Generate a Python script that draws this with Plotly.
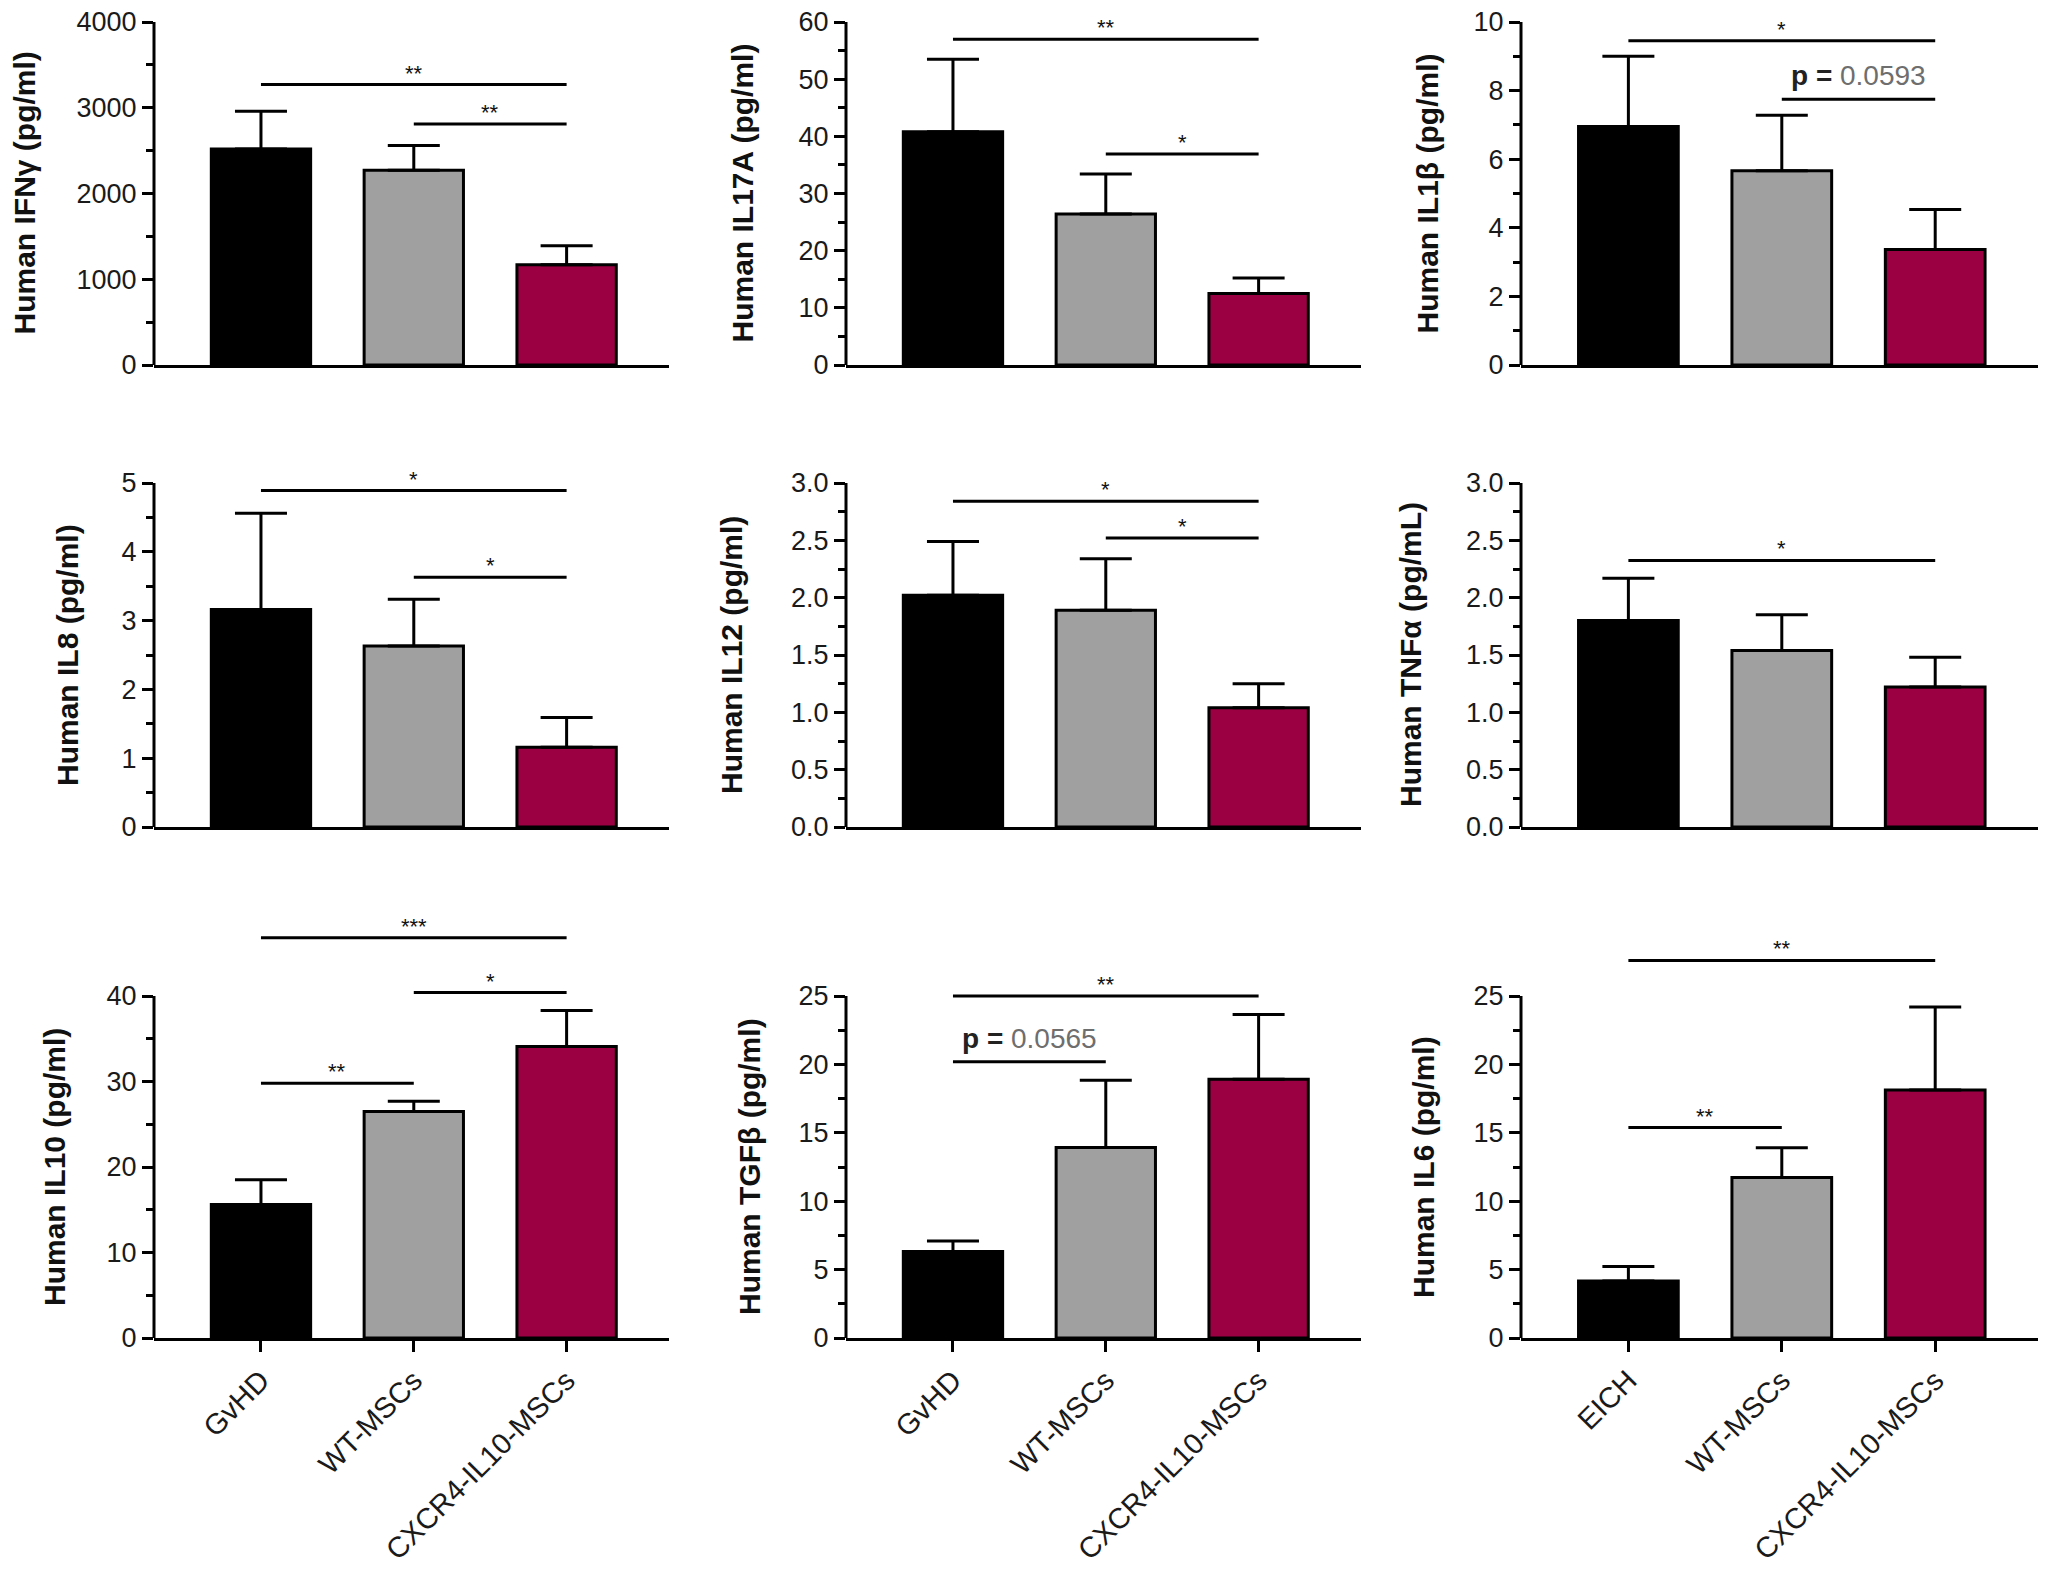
import plotly.graph_objects as go

# page body has an 8px default margin; size the figure so it fits the 2047x1575 window
PAGE_OFF = 8
W, H = 2047 - 2 * PAGE_OFF, 1575 - 2 * PAGE_OFF

# ---------------- data ----------------
GROUPS_GVHD = ["GvHD", "WT-MSCs", "CXCR4-IL10-MSCs"]
GROUPS_EICH = ["EICH", "WT-MSCs", "CXCR4-IL10-MSCs"]

IFNG_MEAN = [2520, 2270, 1170]
IFNG_SEM = [440, 290, 220]
IFNG_TICKS = [0, 1000, 2000, 3000, 4000]
IFNG_SIG = [(0, 2, 3270, "**"), (1, 2, 2810, "**")]

IL17A_MEAN = [40.8, 26.4, 12.5]
IL17A_SEM = [12.7, 7.0, 2.7]
IL17A_TICKS = [0, 10, 20, 30, 40, 50, 60]
IL17A_SIG = [(0, 2, 57.0, "**"), (1, 2, 36.9, "*")]

IL1B_MEAN = [6.95, 5.66, 3.37]
IL1B_SEM = [2.05, 1.62, 1.16]
IL1B_TICKS = [0, 2, 4, 6, 8, 10]
IL1B_SIG = [(0, 2, 9.45, "*"), (1, 2, 7.75, "p = 0.0593")]

IL8_MEAN = [3.16, 2.63, 1.16]
IL8_SEM = [1.40, 0.68, 0.43]
IL8_TICKS = [0, 1, 2, 3, 4, 5]
IL8_SIG = [(0, 2, 4.89, "*"), (1, 2, 3.63, "*")]

IL12_MEAN = [2.02, 1.89, 1.04]
IL12_SEM = [0.47, 0.45, 0.21]
IL12_TICKS = [0.0, 0.5, 1.0, 1.5, 2.0, 2.5, 3.0]
IL12_SIG = [(0, 2, 2.84, "*"), (1, 2, 2.52, "*")]

TNFA_MEAN = [1.80, 1.54, 1.22]
TNFA_SEM = [0.37, 0.31, 0.26]
TNFA_TICKS = [0.0, 0.5, 1.0, 1.5, 2.0, 2.5, 3.0]
TNFA_SIG = [(0, 2, 2.325, "*")]

IL10_MEAN = [15.6, 26.5, 34.1]
IL10_SEM = [2.9, 1.2, 4.2]
IL10_TICKS = [0, 10, 20, 30, 40]
IL10_SIG = [(0, 2, 46.8, "***"), (1, 2, 40.4, "*"), (0, 1, 29.8, "**")]

TGFB_MEAN = [6.32, 13.92, 18.92]
TGFB_SEM = [0.77, 4.93, 4.73]
TGFB_TICKS = [0, 5, 10, 15, 20, 25]
TGFB_SIG = [(0, 2, 25.0, "**"), (0, 1, 20.2, "p = 0.0565")]

IL6_MEAN = [4.16, 11.73, 18.12]
IL6_SEM = [1.07, 2.17, 6.08]
IL6_TICKS = [0, 5, 10, 15, 20, 25]
IL6_SIG = [(0, 2, 27.6, "**"), (0, 1, 15.38, "**")]

PANELS = [
    ("Human IFNγ (pg/ml)", GROUPS_GVHD, IFNG_MEAN, IFNG_SEM, IFNG_TICKS, IFNG_SIG),
    ("Human IL17A (pg/ml)", GROUPS_GVHD, IL17A_MEAN, IL17A_SEM, IL17A_TICKS, IL17A_SIG),
    ("Human IL1β (pg/ml)", GROUPS_GVHD, IL1B_MEAN, IL1B_SEM, IL1B_TICKS, IL1B_SIG),
    ("Human IL8 (pg/ml)", GROUPS_GVHD, IL8_MEAN, IL8_SEM, IL8_TICKS, IL8_SIG),
    ("Human IL12 (pg/ml)", GROUPS_GVHD, IL12_MEAN, IL12_SEM, IL12_TICKS, IL12_SIG),
    ("Human TNFα (pg/mL)", GROUPS_GVHD, TNFA_MEAN, TNFA_SEM, TNFA_TICKS, TNFA_SIG),
    ("Human IL10 (pg/ml)", GROUPS_GVHD, IL10_MEAN, IL10_SEM, IL10_TICKS, IL10_SIG),
    ("Human TGFβ (pg/ml)", GROUPS_GVHD, TGFB_MEAN, TGFB_SEM, TGFB_TICKS, TGFB_SIG),
    ("Human IL6 (pg/ml)", GROUPS_EICH, IL6_MEAN, IL6_SEM, IL6_TICKS, IL6_SIG),
]

# ---------------- style / layout (screen px) ----------------
COLORS = ["#000000", "#a0a0a0", "#9b0042"]
FONT = "Liberation Sans, Arial, Helvetica, sans-serif"
XDOM_PX = [(154, 669), (846, 1361), (1521, 2038)]
YDOM_PX = [(22, 365), (483, 827), (900, 1338)]  # top, bottom (px from top)
ROW3_TICKTOP_PX = 996
TITLE_OFFSET = [130, 104, 94, 86, 114, 110, 100, 97, 98]
LW = 3


def fx(px):
    return (px - PAGE_OFF) / W


def fy(px):
    return 1 - (px - PAGE_OFF) / H


fig = go.Figure()
shapes = []
annotations = []

for i, (title, groups, mean, sem, ticks, sig) in enumerate(PANELS):
    n = i + 1
    xa = "x" if n == 1 else f"x{n}"
    ya = "y" if n == 1 else f"y{n}"
    r, c = divmod(i, 3)
    top_tick = ticks[-1]
    ytop_px, ybot_px = YDOM_PX[r]
    if r == 2:
        rng_top = top_tick * (ybot_px - ytop_px) / (ybot_px - ROW3_TICKTOP_PX)
    else:
        rng_top = top_tick
    step = ticks[1] - ticks[0]
    minor_vals = [t + step / 2 for t in ticks[:-1]]
    is_float = any(isinstance(t, float) for t in ticks)
    ticktext = [f"{t:.1f}" if is_float else f"{int(t)}" for t in ticks]

    fig.add_trace(go.Bar(
        x=groups, y=mean, width=0.65,
        marker=dict(color=COLORS, line=dict(color="black", width=LW)),
        error_y=dict(type="data", symmetric=False, array=sem, arrayminus=[0, 0, 0],
                     color="black", thickness=LW, width=26),
        xaxis=xa, yaxis=ya, showlegend=False, hoverinfo="x+y",
    ))

    xd = XDOM_PX[c]
    fig.layout[f"xaxis{'' if n == 1 else n}"] = dict(
        domain=[fx(xd[0]), fx(xd[1])], anchor=ya, type="category",
        range=[-0.7, 2.67], showline=True, linecolor="black", linewidth=LW,
        ticks="outside" if r == 2 else "", ticklen=11, tickwidth=LW, tickcolor="black",
        showticklabels=(r == 2), tickangle=-45, ticklabeloverflow="allow",
        tickfont=dict(family=FONT, size=29, color="#1a1a1a"),
        showgrid=False, zeroline=False, automargin=False, fixedrange=True,
    )
    fig.layout[f"yaxis{'' if n == 1 else n}"] = dict(
        domain=[fy(ybot_px), fy(ytop_px)], anchor=xa,
        range=[0, rng_top], showline=False,
        ticks="outside", ticklen=11, tickwidth=LW, tickcolor="black",
        tickmode="array", tickvals=ticks, ticktext=ticktext,
        minor=dict(tickmode="array", tickvals=minor_vals, ticks="outside",
                   ticklen=7, tickwidth=LW, tickcolor="black"),
        tickfont=dict(family=FONT, size=27, color="#1a1a1a"),
        ticklabelstandoff=0, ticklabeloverflow="allow",
        showgrid=False, zeroline=False, automargin=False, fixedrange=True,
    )
    # y axis line only up to the top tick
    shapes.append(dict(type="line", xref=f"{xa} domain", yref=ya,
                       x0=0, x1=0, y0=0, y1=top_tick,
                       line=dict(color="black", width=LW)))
    # y axis title
    annotations.append(dict(
        text=f"<b>{title}</b>", xref=f"{xa} domain", yref=ya,
        x=0, y=top_tick / 2, xshift=-TITLE_OFFSET[i], textangle=-90,
        xanchor="center", yanchor="middle", showarrow=False,
        font=dict(family=FONT, size=30, color="#111111"),
    ))
    # significance brackets
    for (g0, g1, yv, label) in sig:
        shapes.append(dict(type="line", xref=xa, yref=ya, x0=g0, x1=g1, y0=yv, y1=yv,
                           line=dict(color="black", width=LW)))
        if label.startswith("p"):
            txt = ('<b><span style="color:#222">p =</span></b> '
                   f'<span style="color:#6e6e6e">{label.split("= ")[1]}</span>')
            annotations.append(dict(text=txt, xref=xa, yref=ya, x=(g0 + g1) / 2, y=yv,
                                    xanchor="center", yanchor="bottom", yshift=6,
                                    showarrow=False,
                                    font=dict(family=FONT, size=28, color="#555")))
        else:
            annotations.append(dict(text=label, xref=xa, yref=ya, x=(g0 + g1) / 2, y=yv,
                                    xanchor="center", yanchor="bottom", yshift=-3,
                                    showarrow=False,
                                    font=dict(family=FONT, size=22, color="#111")))

fig.update_layout(
    width=W, height=H, template="none",
    margin=dict(l=0, r=0, t=0, b=0),
    paper_bgcolor="white", plot_bgcolor="white",
    shapes=shapes, annotations=annotations, showlegend=False,
    font=dict(family=FONT),
)

fig.write_html("out.html")
